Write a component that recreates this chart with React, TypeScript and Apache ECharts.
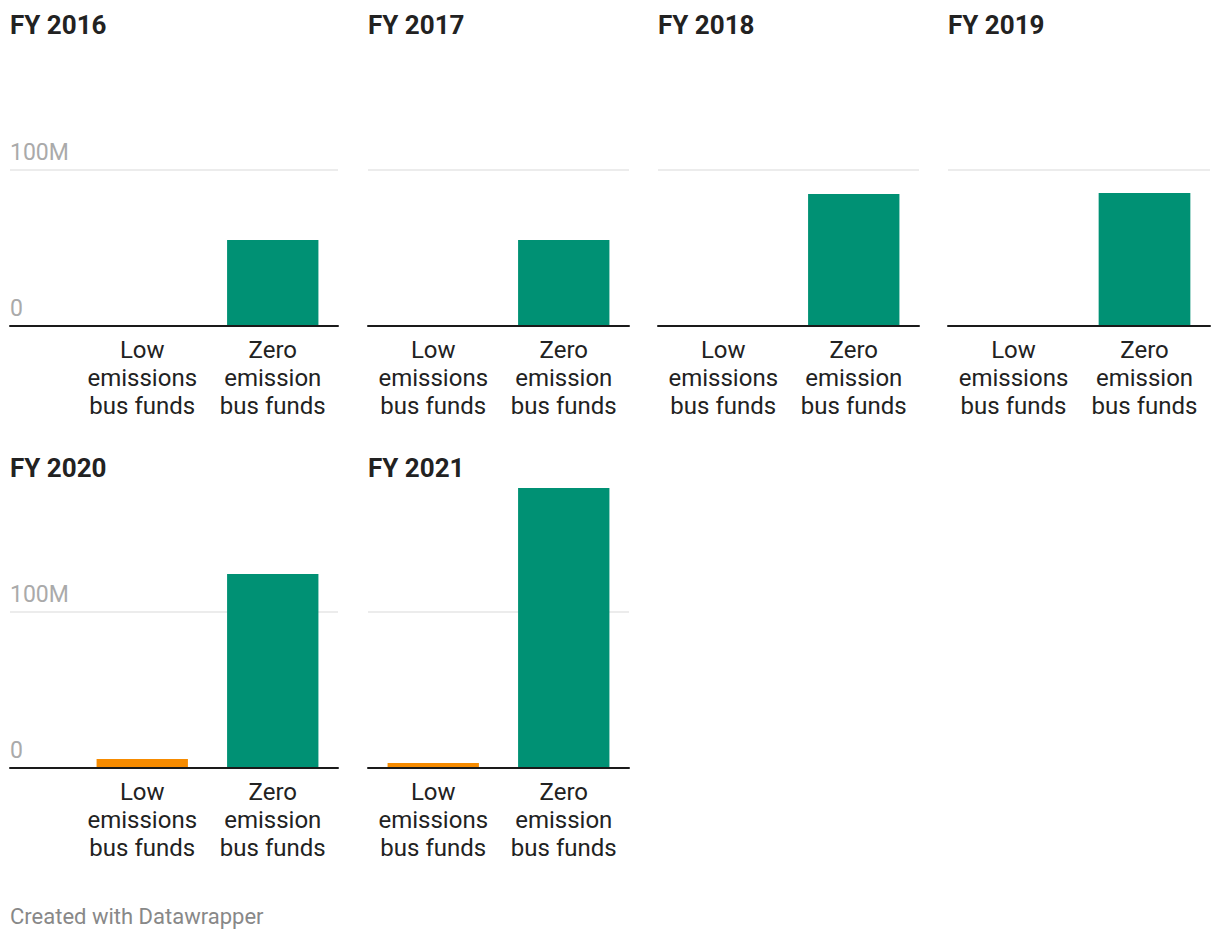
import React, { useEffect, useRef } from 'react';
import * as echarts from 'echarts';

const years = ['FY 2016', 'FY 2017', 'FY 2018', 'FY 2019', 'FY 2020', 'FY 2021'];
const categories = ['Low\nemissions\nbus funds', 'Zero\nemission\nbus funds'];
const lowEmissionFunds = [0, 0, 0, 0, 5.6, 3.0];
const zeroEmissionFunds = [55.0, 55.0, 84.6, 85.2, 124.2, 179.3];
const yTicks = [0, 100];
const tickLabels = ['0', '100M'];
const footerText = 'Created with Datawrapper';

const barColors = ['#f68b00', '#009174'];

// layout (pixels)
const colLineLeft = [10, 368, 658, 948];
const colRight = [338, 629, 919, 1210];
const colBarLeft = [77, 368, 658, 948];
const rowBaseline = [325.7, 767.7];
const rowGridTop = [170, 611.7];
const rowBarMax = [100, 200];
const rowTitleTop = [12, 454.5];

const FONT = 'Roboto, "Noto Sans", sans-serif';

export default function App() {
  const ref = useRef<HTMLDivElement>(null);

  useEffect(() => {
    if (!ref.current) return;
    const chart = echarts.init(ref.current, undefined, { renderer: 'svg' });

    const grids: any[] = [];
    const xAxes: any[] = [];
    const yAxes: any[] = [];
    const series: any[] = [];
    const titles: any[] = [];

    years.forEach((year, i) => {
      const row = i < 4 ? 0 : 1;
      const col = i % 4;
      const base = rowBaseline[row];
      const gTop = rowGridTop[row];
      const pxPer100 = base - gTop;
      const barMax = rowBarMax[row];
      const barTop = base - (pxPer100 * barMax) / 100;

      titles.push({
        text: year,
        left: colLineLeft[col],
        top: rowTitleTop[row],
        padding: 0,
        textStyle: { fontSize: 26, fontWeight: 'bold', color: '#222', fontFamily: FONT },
      });

      // line grid (gridlines + baseline)
      const lineGridIdx = grids.length;
      grids.push({
        left: colLineLeft[col],
        width: colRight[col] - colLineLeft[col],
        top: gTop,
        height: pxPer100,
        containLabel: false,
      });
      xAxes.push({
        type: 'category',
        gridIndex: lineGridIdx,
        data: [''],
        z: 10,
        axisLine: { show: true, lineStyle: { color: '#1a1a1a', width: 2 } },
        axisTick: { show: false },
        axisLabel: { show: false },
        splitLine: { show: false },
      });
      yAxes.push({
        type: 'value',
        gridIndex: lineGridIdx,
        min: 0,
        max: 100,
        interval: 100,
        axisLine: { show: false },
        axisTick: { show: false },
        splitLine: { show: true, lineStyle: { color: '#e6e6e6', width: 1.5 } },
        axisLabel: {
          show: col === 0,
          inside: true,
          margin: 0,
          align: 'left',
          verticalAlign: 'bottom',
          padding: [0, 0, 6, 0],
          color: '#aaaaaa',
          fontSize: 23,
          fontFamily: FONT,
          formatter: (v: number) => {
            const k = yTicks.indexOf(v);
            return k >= 0 ? tickLabels[k] : '';
          },
        },
      });

      // bar grid
      const barGridIdx = grids.length;
      grids.push({
        left: colBarLeft[col],
        width: colRight[col] - colBarLeft[col],
        top: barTop,
        height: base - barTop,
        containLabel: false,
      });
      xAxes.push({
        type: 'category',
        gridIndex: barGridIdx,
        data: categories,
        axisLine: { show: false },
        axisTick: { show: false },
        splitLine: { show: false },
        axisLabel: {
          interval: 0,
          color: '#222',
          fontSize: 24,
          lineHeight: 28,
          margin: 10,
          fontFamily: FONT,
        },
      });
      yAxes.push({
        type: 'value',
        gridIndex: barGridIdx,
        min: 0,
        max: barMax,
        show: false,
      });
      series.push({
        type: 'bar',
        name: year,
        xAxisIndex: barGridIdx,
        yAxisIndex: barGridIdx,
        barCategoryGap: '30%',
        data: [
          { value: lowEmissionFunds[i], itemStyle: { color: barColors[0] } },
          { value: zeroEmissionFunds[i], itemStyle: { color: barColors[1] } },
        ],
      });
    });

    titles.push({
      text: footerText,
      left: 10,
      top: 905.5,
      padding: 0,
      textStyle: { fontSize: 22, fontWeight: 'normal', color: '#888888', fontFamily: FONT },
    });

    chart.setOption({
      animation: false,
      backgroundColor: '#ffffff',
      title: titles,
      grid: grids,
      xAxis: xAxes,
      yAxis: yAxes,
      series,
    });

    return () => chart.dispose();
  }, []);

  return (
    <div
      ref={ref}
      style={{ position: 'fixed', left: 0, top: 0, width: 1220, height: 940 }}
    />
  );
}
